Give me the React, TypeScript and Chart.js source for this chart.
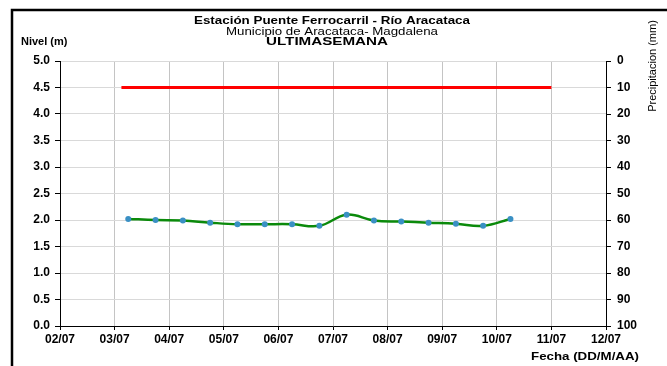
import React, { useEffect, useRef } from "react";
import { Chart, registerables } from "chart.js";

Chart.register(...registerables);

// ---- data ----
const xTickLabels = ["02/07", "03/07", "04/07", "05/07", "06/07", "07/07", "08/07", "09/07", "10/07", "11/07", "12/07"];
const levelTimes = [
  "03/07 06:00", "03/07 18:00", "04/07 06:00", "04/07 18:00", "05/07 06:00",
  "05/07 18:00", "06/07 06:00", "06/07 18:00", "07/07 06:00", "07/07 18:00",
  "08/07 06:00", "08/07 18:00", "09/07 06:00", "09/07 18:00", "10/07 06:00",
];
const levelValues = [2.02, 2.0, 1.99, 1.95, 1.92, 1.92, 1.92, 1.89, 2.1, 1.99, 1.97, 1.95, 1.93, 1.89, 2.02];
const alertTimes = ["03/07 03:00", "11/07 00:00"];
const alertValues = [4.5, 4.5];

const titleLines = ["Estación Puente Ferrocarril - Río Aracataca", "Municipio de Aracataca- Magdalena", "ULTIMASEMANA"];
const leftAxisTitle = "Nivel (m)";
const rightAxisTitle = "Precipitacion (mm)";
const bottomAxisTitle = "Fecha (DD/M/AA)";

const FONT = "'Liberation Sans', Arial, sans-serif";

function toDay(s: string): number {
  const [d, t] = s.split(" ");
  const day = parseInt(d.split("/")[0], 10);
  const [hh, mm] = t.split(":").map((v) => parseInt(v, 10));
  return day - 2 + (hh + mm / 60) / 24;
}

function stretchText(ctx: CanvasRenderingContext2D, text: string, x: number, y: number, width: number, align: CanvasTextAlign) {
  const w = ctx.measureText(text).width;
  const sx = width / w;
  ctx.save();
  ctx.translate(x, y);
  ctx.scale(sx, 1);
  ctx.textAlign = align;
  ctx.fillText(text, 0, 0);
  ctx.restore();
}

const decorPlugin = {
  id: "decor",
  afterDraw(chart: any) {
    const ctx = chart.ctx as CanvasRenderingContext2D;
    ctx.save();
    // frame
    ctx.strokeStyle = "#000";
    ctx.lineWidth = 2.5;
    ctx.strokeRect(12, 10, 800, 500);
    ctx.fillStyle = "#000";
    ctx.textBaseline = "middle";
    ctx.font = `bold 11px ${FONT}`;
    stretchText(ctx, titleLines[0], 332, 21, 276, "center");
    ctx.font = `11px ${FONT}`;
    stretchText(ctx, titleLines[1], 332, 32, 212, "center");
    ctx.font = `bold 11px ${FONT}`;
    stretchText(ctx, titleLines[2], 327, 42, 122, "center");
    ctx.textAlign = "left";
    ctx.fillText(leftAxisTitle, 21, 42);
    stretchText(ctx, bottomAxisTitle, 639, 357, 108, "right");
    // right title rotated (bottom to top)
    ctx.font = `11px ${FONT}`;
    ctx.translate(653, 66);
    ctx.rotate(-Math.PI / 2);
    ctx.textAlign = "center";
    ctx.fillText(rightAxisTitle, 0, 0);
    ctx.restore();
  },
};

export default function App() {
  const ref = useRef<HTMLCanvasElement | null>(null);
  useEffect(() => {
    document.body.style.margin = "0";
    const canvas = ref.current!;
    const chart = new Chart(canvas, {
      type: "line",
      data: {
        datasets: [
          {
            label: "Alerta",
            data: alertTimes.map((t, i) => ({ x: toDay(t), y: alertValues[i] })),
            borderColor: "#ff0000",
            borderWidth: 3,
            pointRadius: 0,
            yAxisID: "y",
          },
          {
            label: "Nivel",
            data: levelTimes.map((t, i) => ({ x: toDay(t), y: levelValues[i] })),
            borderColor: "#0b8a0b",
            borderWidth: 2.5,
            tension: 0.4,
            pointRadius: 3,
            pointBackgroundColor: "#3a90c4",
            pointBorderColor: "#3a90c4",
            pointBorderWidth: 0,
            yAxisID: "y",
          },
        ],
      },
      options: {
        responsive: false,
        animation: false,
        layout: { padding: { top: 61, left: 0, right: 0, bottom: 0 } },
        plugins: { legend: { display: false }, tooltip: { enabled: false }, title: { display: false } },
        scales: {
          x: {
            type: "linear",
            min: 0,
            max: 10,
            afterFit: (s: any) => { s.height = 40; },
            afterBuildTicks: (s: any) => { s.ticks = xTickLabels.map((_, i) => ({ value: i })); },
            ticks: {
              stepSize: 1,
              autoSkip: false,
              maxRotation: 0,
              padding: 2,
              color: "#000",
              font: { family: FONT, size: 12, weight: "bold" },
              callback: (v: any) => xTickLabels[Math.round(Number(v))] ?? "",
            },
            grid: { color: "#c4c4c4", tickColor: "#000", tickLength: 4, lineWidth: 1 },
            border: { color: "#000", width: 1 },
          },
          y: {
            position: "left",
            min: 0,
            max: 5,
            afterFit: (s: any) => { s.width = 60; },
            ticks: {
              stepSize: 0.5,
              padding: 5,
              color: "#000",
              font: { family: FONT, size: 12, weight: "bold" },
              callback: (v: any) => Number(v).toFixed(1),
            },
            grid: { color: "#d9d9d9", tickColor: "#000", tickLength: 5, lineWidth: 1 },
            border: { color: "#000", width: 1 },
          },
          y2: {
            position: "right",
            min: 0,
            max: 100,
            reverse: true,
            afterFit: (s: any) => { s.width = 61; },
            ticks: {
              stepSize: 10,
              padding: 6,
              color: "#000",
              font: { family: FONT, size: 12, weight: "bold" },
            },
            grid: { drawOnChartArea: false, tickColor: "#000", tickLength: 5 },
            border: { color: "#000", width: 1 },
          },
        },
      } as any,
      plugins: [decorPlugin],
    });
    return () => chart.destroy();
  }, []);
  return (
    <div style={{ position: "fixed", left: 0, top: 0, width: 667, height: 366, background: "#fff" }}>
      <canvas ref={ref} width={667} height={366} style={{ width: 667, height: 366 }} />
    </div>
  );
}
